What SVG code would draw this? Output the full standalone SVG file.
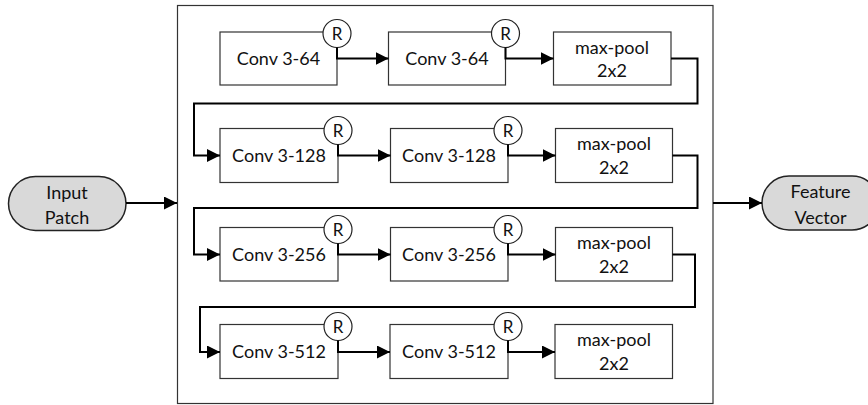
<svg xmlns="http://www.w3.org/2000/svg" width="868" height="405" viewBox="0 0 868 405">
<defs>
<style>
.box{fill:#fff;stroke:#333;stroke-width:1.2}
.circ{fill:#fff;stroke:#222;stroke-width:1.2}
.term{fill:#d9d9d9;stroke:#222;stroke-width:1.5}
.outer{fill:none;stroke:#333;stroke-width:1.2}
.conn{fill:none;stroke:#000;stroke-width:2}
text{font-family:Lato,"Open Sans","Liberation Sans",sans-serif;font-size:18px;fill:#111;text-anchor:middle}
.r{font-size:17px}
</style>
<marker id="ah" markerUnits="userSpaceOnUse" markerWidth="14" markerHeight="14" refX="13" refY="6.5" orient="auto">
<path d="M0,0 L13,6.5 L0,13 z" fill="#000"/>
</marker>
</defs>
<rect class="outer" x="177.5" y="5.5" width="535.5" height="398"/>

<g id="input">
<rect class="term" x="8.5" y="176.5" width="117.5" height="54" rx="27"/>
<text x="67" y="198.5">Input</text>
<text x="67" y="223.5">Patch</text>
</g>
<g id="feature">
<rect class="term" x="762" y="176" width="117" height="54" rx="27"/>
<text x="820.5" y="198">Feature</text>
<text x="820.5" y="223.5">Vector</text>
</g>

<g id="r1c1"><rect class="box" x="220" y="32" width="117" height="53"/><text x="278.5" y="65">Conv 3-64</text><circle class="circ" cx="337" cy="33.5" r="14"/><text class="r" x="337" y="39.5">R</text></g>
<g id="r1c2"><rect class="box" x="388.5" y="32" width="117" height="53"/><text x="447" y="65">Conv 3-64</text><circle class="circ" cx="505.5" cy="33.5" r="14"/><text class="r" x="505.5" y="39.5">R</text></g>
<g id="r1m"><rect class="box" x="553.5" y="32" width="117.5" height="53"/><text x="612" y="53.5">max-pool</text><text x="612" y="77">2x2</text></g>

<g id="r2c1"><rect class="box" x="220" y="128.5" width="118" height="54"/><text x="279" y="162">Conv 3-128</text><circle class="circ" cx="338" cy="130.5" r="14"/><text class="r" x="338" y="136.5">R</text></g>
<g id="r2c2"><rect class="box" x="390.5" y="128.5" width="117.5" height="54"/><text x="449" y="162">Conv 3-128</text><circle class="circ" cx="508" cy="130.5" r="14"/><text class="r" x="508" y="136.5">R</text></g>
<g id="r2m"><rect class="box" x="555.5" y="128.5" width="117" height="54"/><text x="614" y="150">max-pool</text><text x="614" y="173.5">2x2</text></g>

<g id="r3c1"><rect class="box" x="220" y="227.5" width="118" height="53.5"/><text x="279" y="261">Conv 3-256</text><circle class="circ" cx="338" cy="229.5" r="14"/><text class="r" x="338" y="235.5">R</text></g>
<g id="r3c2"><rect class="box" x="390.5" y="227.5" width="117.5" height="53.5"/><text x="449" y="261">Conv 3-256</text><circle class="circ" cx="508" cy="229.5" r="14"/><text class="r" x="508" y="235.5">R</text></g>
<g id="r3m"><rect class="box" x="555.5" y="227.5" width="117" height="53.5"/><text x="614" y="249">max-pool</text><text x="614" y="272.5">2x2</text></g>

<g id="r4c1"><rect class="box" x="220" y="324.5" width="118" height="54"/><text x="279" y="358">Conv 3-512</text><circle class="circ" cx="338" cy="326.5" r="14"/><text class="r" x="338" y="332.5">R</text></g>
<g id="r4c2"><rect class="box" x="390" y="324.5" width="118" height="54"/><text x="449" y="358">Conv 3-512</text><circle class="circ" cx="508" cy="326.5" r="14"/><text class="r" x="508" y="332.5">R</text></g>
<g id="r4m"><rect class="box" x="555" y="324.5" width="117.5" height="54"/><text x="614" y="346">max-pool</text><text x="614" y="369.5">2x2</text></g>

<g id="connectors">
<path class="conn" marker-end="url(#ah)" d="M126,203 H177"/>
<path class="conn" marker-end="url(#ah)" d="M713,203 H762"/>
<path class="conn" marker-end="url(#ah)" d="M337,47.5 V58.5 H388.5"/>
<path class="conn" marker-end="url(#ah)" d="M505.5,47.5 V58.5 H553.5"/>
<path class="conn" marker-end="url(#ah)" d="M671,58.5 H697.5 V103.5 H194 V155.5 H220"/>
<path class="conn" marker-end="url(#ah)" d="M338,144.5 V155.5 H390.5"/>
<path class="conn" marker-end="url(#ah)" d="M508,144.5 V155.5 H555.5"/>
<path class="conn" marker-end="url(#ah)" d="M672.5,155.5 H697.5 V208 H194 V254.5 H220"/>
<path class="conn" marker-end="url(#ah)" d="M338,243.5 V254.5 H390.5"/>
<path class="conn" marker-end="url(#ah)" d="M508,243.5 V254.5 H555.5"/>
<path class="conn" marker-end="url(#ah)" d="M672.5,254.5 H695 V307 H200 V352 H220"/>
<path class="conn" marker-end="url(#ah)" d="M338,340.5 V352 H390"/>
<path class="conn" marker-end="url(#ah)" d="M508,340.5 V352 H555"/>
</g>
</svg>
